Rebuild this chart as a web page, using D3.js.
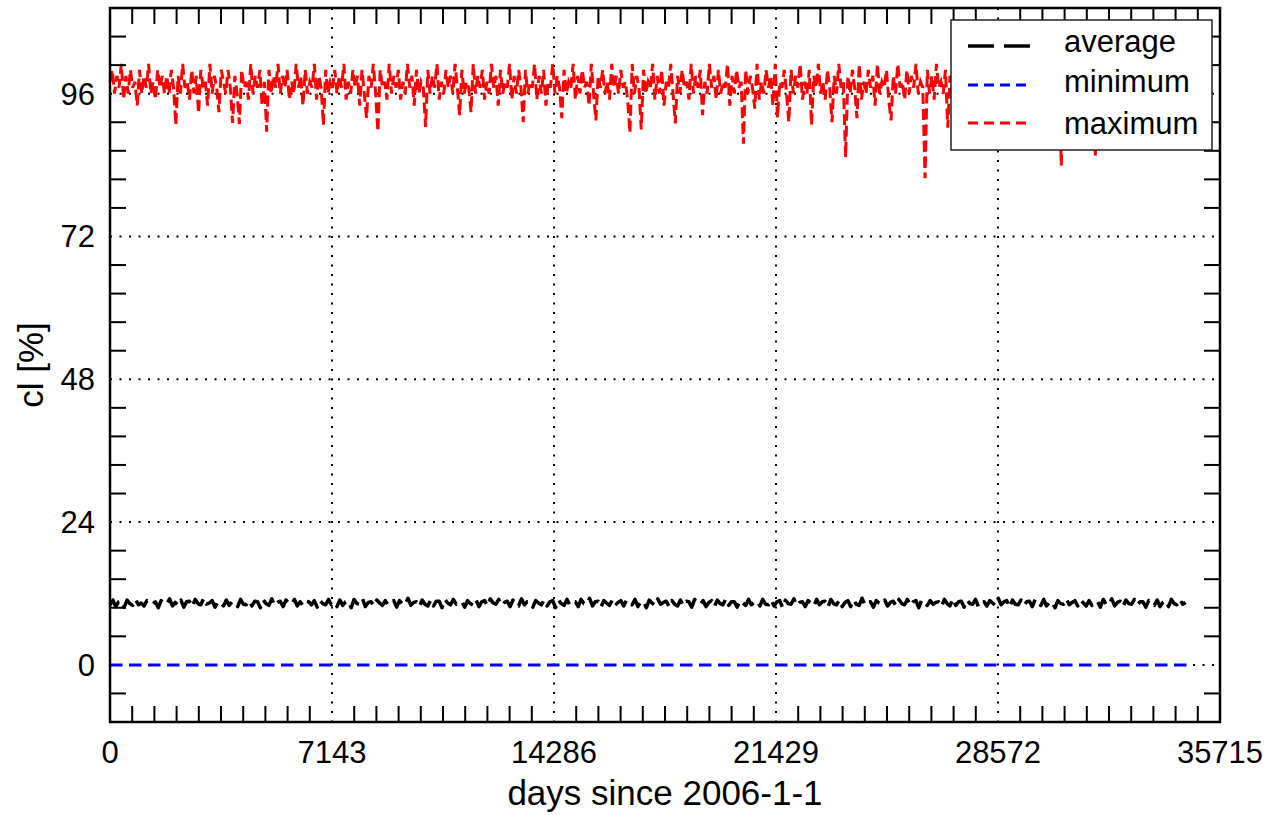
<!DOCTYPE html>
<html>
<head>
<meta charset="utf-8">
<script src="https://cdn.jsdelivr.net/npm/d3@7/dist/d3.min.js"></script>
<style>
  body { margin: 0; background: #fff; }
  text { font-family: "Liberation Sans", Arial, Helvetica, sans-serif; fill: #000; }
</style>
</head>
<body>
<div id="chart"></div>
<script>
// axis ticks
const xTicks = [0, 7143, 14286, 21429, 28572, 35715];
const yTicks = [0, 24, 48, 72, 96];

// sampling step of each series (days)
const avgStep = 91.31;
const maxStep = 73.05;

// average cl [%], 4 samples per year
const avgValues = [
  10.1,10.9,9.8,10.6, 10.8,9.7,10.9,10.3, 10.0,11.0,10.1,10.4, 9.9,10.8,10.7,10.2, 10.6,9.6,10.8,10.4,
  10.2,11.1,9.9,10.5, 10.0,10.9,9.7,10.6, 10.7,9.8,11.0,10.3, 10.1,11.2,10.2,10.4, 10.8,9.7,10.6,10.5,
  9.9,10.9,10.0,10.6, 10.5,9.8,11.0,10.2, 10.1,10.8,9.9,10.7, 10.6,9.6,10.9,10.3, 10.0,11.1,10.0,10.5,
  10.7,9.8,10.9,10.4, 10.2,11.0,9.9,10.6, 10.0,10.7,10.6,10.1, 10.8,9.7,10.8,10.3, 10.1,11.0,10.1,10.5,
  9.8,10.9,10.0,10.6, 10.7,9.6,11.0,10.3, 10.2,11.1,9.8,10.5, 10.6,9.9,10.9,10.4, 10.0,10.8,10.1,10.6,
  10.8,9.7,10.8,10.3, 10.1,11.2,10.0,10.5, 10.6,9.8,10.9,10.2, 9.9,10.9,9.9,10.7, 10.7,9.6,11.0,10.4,
  10.1,11.0,10.2,10.5, 10.6,9.7,10.8,10.3, 10.0,10.9,9.8,10.6, 10.8,9.9,11.1,10.4, 10.2,11.0,10.0,10.5,
  10.7,9.8,10.9,10.2, 9.9,11.1,10.1,10.6, 10.5,9.7,10.8,10.4, 10.1,10.9,9.9,10.6, 10.8,9.6,10.9,10.3,
  10.0,11.0,10.1,10.5, 10.6,9.8,11.0,10.3, 10.2,11.2,9.9,10.6, 10.7,9.7,10.8,10.4, 10.0,10.9,10.0,10.5,
  10.8,9.9,10.9,10.3, 10.1,11.0,9.8,10.6, 10.6,9.6,10.9,10.4, 10.0,11.1,10.2,10.5, 10.7,9.8,10.8,10.2,
  9.9,10.9,10.0,10.7, 10.6,9.7,11.0,10.4, 10.2,10.8,9.8,10.5, 10.8,9.8,10.9,10.3, 10.1,11.1,10.0,10.6,
  10.6,9.7,10.8,10.4, 10.0,11.0,10.1,10.5, 10.7,9.9,11.0,10.2, 10.1,10.9,9.9,10.6, 10.8,9.6,10.9,10.3,
  10.2,11.1,10.0,10.5, 10.6,9.8,10.8,10.4, 9.9,11.0,10.1,10.6, 10.7,9.7,11.0,10.3, 10.1,10.9,9.8,10.5,
  10.8,9.8,10.9,10.2, 10.0,11.2,10.1,10.6, 10.6,9.7,10.8,10.4, 10.2,10.9,9.9,10.5, 10.7,9.9,11.0,10.3,
  10.1,11.0,10.0,10.6, 10.8,9.6,10.9,10.4, 10.0,10.8,10.2,10.5, 10.6,9.8,11.0,10.3, 9.9,11.1,10.0,10.6,
  10.7,9.7,10.9,10.3, 10.2,11.0,9.8,10.5, 10.6,9.9,10.8,10.4, 10.0,11.2,10.1,10.6, 10.8,9.7,10.9,10.2,
  10.1,10.9,10.0,10.6, 10.7,9.8,11.0,10.4, 10.0,11.0,9.9,10.5, 10.6,9.6,10.8,10.3, 10.2,11.1,10.1,10.5,
  10.8,9.9,10.9,10.4, 9.9,10.8,10.0,10.6, 10.6,9.7,11.0,10.2, 10.1,11.1,9.9,10.5, 10.7,9.8,10.9,10.3,
  10.2,11.0,10.1,10.6, 10.6,9.7,10.8,10.4, 10.0,10.9,9.8,10.5, 10.8,9.8,11.0,10.3, 10.1,11.0,10.2,10.5
];

// minimum cl [%]
const minDays = [0, 34698];
const minValues = [0, 0];

// maximum cl [%], 5 samples per year
const maxValues = [
  98,100,96,99,97,101,95,99,96,100,97,98,94,100,96,99,97,101,96,98,95,100,97,99,96,
  99,96,100,97,90.7,99,96,101,97,98,95,100,96,99,92.7,100,97,98,94,101,96,99,97,92.9,100,
  98,96,100,97,91.1,99,96,90.9,100,97,98,95,101,96,99,97,100,94,98,89.6,100,96,99,97,101,
  96,99,97,100,95,98,96,101,97,99,94,100,96,98,97,101,95,99,97,90.7,100,96,98,97,100,
  96,99,97,101,95,98,96,100,97,99,94,100,96,91.9,99,97,101,96,89.6,100,97,98,95,101,96,
  99,97,100,95,98,96,101,97,99,94,100,96,98,97,90.4,100,96,99,97,101,95,98,96,100,97,
  99,96,101,97,92.4,100,96,98,97,92.9,101,96,99,97,100,95,98,96,101,97,99,94,100,96,98,
  97,101,95,99,96,100,97,91.2,100,96,98,97,101,95,99,96,100,94,98,97,101,96,99,97,91.9,
  100,96,98,97,101,95,99,96,100,97,98,94,101,96,91.5,99,97,100,96,98,95,101,97,99,96,
  100,97,98,95,89.4,101,96,99,97,90.0,100,96,98,97,101,95,99,96,100,94,98,97,101,96,91.0,
  99,96,100,97,98,95,101,96,99,97,100,92.4,98,96,101,97,99,95,100,96,98,97,101,94,99,
  96,100,97,98,87.6,100,96,99,97,93.5,101,95,98,96,100,97,99,94,101,92.0,98,97,100,96,91.2,
  100,96,99,97,101,95,98,96,100,90.7,99,97,101,96,98,95,100,97,91.2,99,96,101,97,98,85.3,
  99,96,100,97,91.9,101,95,98,96,100,97,99,94,101,96,98,97,100,95,91.5,99,96,101,97,98,
  95,100,96,99,97,101,96,98,97,81.8,100,96,99,95,101,97,98,96,100,90.3,99,97,101,96,98,
  97,100,95,99,96,101,97,98,94,100,96,99,97,101,95,98,96,100,97,99,95,101,96,98,97,
  100,96,99,97,101,95,98,96,100,97,99,94,101,96,98,97,100,95,99,83.9,100,96,98,97,101,
  96,99,97,100,95,98,96,101,97,85.6,100,96,99,97,101,95,98,96,100,94,99,97,101,96,98,
  97,100,96,99,95,101,97,98,96,100,97,99,94,101,96,98,97,100,95,99,96,101,97,98,99
];

// legend entries
const legendLabels = ["average", "minimum", "maximum"];
const legendColors = ["#000000", "#0000ff", "#ff0000"];
const legendDashes = ["26,10", "10,6", "10,6"];

const width = 1277;
const height = 815;

const svg = d3.select('#chart')
  .append('svg')
  .attr('width', width)
  .attr('height', height);

// scales
const x = d3.scaleLinear().domain([0, 35715]).range([110, 1220]);
const y = d3.scaleLinear().domain([-9.6, 110.4]).range([722, 8]);

// dotted grid at major ticks
svg.append('g')
  .selectAll('line')
  .data(xTicks.slice(1, -1))
  .enter()
  .append('line')
  .attr('x1', d => x(d)).attr('x2', d => x(d))
  .attr('y1', 8).attr('y2', 722)
  .attr('stroke', '#000')
  .attr('stroke-width', 2)
  .attr('stroke-dasharray', '2,7.5');

svg.append('g')
  .selectAll('line')
  .data(yTicks)
  .enter()
  .append('line')
  .attr('x1', 110).attr('x2', 1220)
  .attr('y1', d => y(d)).attr('y2', d => y(d))
  .attr('stroke', '#000')
  .attr('stroke-width', 2)
  .attr('stroke-dasharray', '2,7.5');

// series
const line = d3.line()
  .x(d => x(d[0]))
  .y(d => y(d[1]));

svg.append('path')
  .datum(maxValues.map((v, i) => [i * maxStep, v]))
  .attr('d', line)
  .attr('fill', 'none')
  .attr('stroke', '#ff0000')
  .attr('stroke-width', 3)
  .attr('stroke-dasharray', '11,5');

svg.append('path')
  .datum(minValues.map((v, i) => [minDays[i], v]))
  .attr('d', line)
  .attr('fill', 'none')
  .attr('stroke', '#0000ff')
  .attr('stroke-width', 3)
  .attr('stroke-dasharray', '12.5,6.5');

svg.append('path')
  .datum(avgValues.map((v, i) => [i * avgStep, v]))
  .attr('d', line)
  .attr('fill', 'none')
  .attr('stroke', '#000')
  .attr('stroke-width', 3.5)
  .attr('stroke-linejoin', 'round')
  .attr('stroke-dasharray', '19,7');

// minor ticks on all four sides
const xMinor = d3.range(1, 50).filter(k => k % 10 !== 0).map(k => k * 714.3);
const yMinor = d3.range(-2, 24).filter(k => k % 5 !== 0).map(k => k * 4.8);

const ticks = svg.append('g')
  .attr('stroke', '#000')
  .attr('stroke-width', 2);

xMinor.forEach(v => {
  ticks.append('line').attr('x1', x(v)).attr('x2', x(v)).attr('y1', 722).attr('y2', 706);
  ticks.append('line').attr('x1', x(v)).attr('x2', x(v)).attr('y1', 8).attr('y2', 24);
});
yMinor.forEach(v => {
  ticks.append('line').attr('x1', 110).attr('x2', 126).attr('y1', y(v)).attr('y2', y(v));
  ticks.append('line').attr('x1', 1220).attr('x2', 1204).attr('y1', y(v)).attr('y2', y(v));
});

// legend
const legend = svg.append('g');
legend.append('rect')
  .attr('x', 951).attr('y', 20)
  .attr('width', 261).attr('height', 130)
  .attr('fill', '#fff')
  .attr('stroke', '#222')
  .attr('stroke-width', 1.5);

const legendY = [46, 85, 123];
legendLabels.forEach((label, i) => {
  legend.append('line')
    .attr('x1', 968).attr('x2', 1030)
    .attr('y1', legendY[i]).attr('y2', legendY[i])
    .attr('stroke', legendColors[i])
    .attr('stroke-width', i === 0 ? 3.5 : 3)
    .attr('stroke-dasharray', legendDashes[i]);
  legend.append('text')
    .attr('x', 1064)
    .attr('y', legendY[i] + 6 + (i === 2 ? 5 : i))
    .attr('font-size', 31)
    .text(label);
});

// frame
svg.append('rect')
  .attr('x', 110).attr('y', 8)
  .attr('width', 1110).attr('height', 714)
  .attr('fill', 'none')
  .attr('stroke', '#000')
  .attr('stroke-width', 2.5);

// tick labels
svg.append('g')
  .selectAll('text')
  .data(xTicks)
  .enter()
  .append('text')
  .attr('x', d => x(d))
  .attr('y', 763)
  .attr('text-anchor', 'middle')
  .attr('font-size', 31)
  .text(d => d);

svg.append('g')
  .selectAll('text')
  .data(yTicks)
  .enter()
  .append('text')
  .attr('x', 95)
  .attr('y', d => y(d) + 11)
  .attr('text-anchor', 'end')
  .attr('font-size', 31)
  .text(d => d);

// axis titles
svg.append('text')
  .attr('x', 665)
  .attr('y', 805)
  .attr('text-anchor', 'middle')
  .attr('font-size', 35)
  .text('days since 2006-1-1');

svg.append('text')
  .attr('transform', 'translate(43,365) rotate(-90)')
  .attr('text-anchor', 'middle')
  .attr('font-size', 35)
  .text('cl [%]');
</script>
</body>
</html>
